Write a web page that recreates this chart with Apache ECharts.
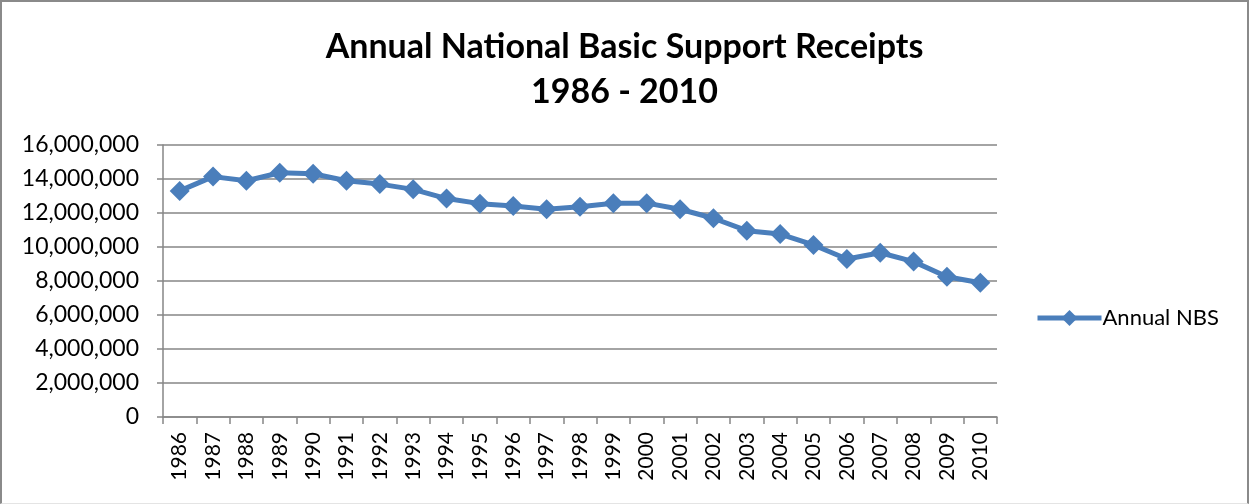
<!DOCTYPE html>
<html>
<head>
<meta charset="UTF-8" />
<title>Annual National Basic Support Receipts</title>
<script src="https://cdn.jsdelivr.net/npm/echarts@6/dist/echarts.min.js"></script>
<style type="text/css">
body{
	margin: 0px;
	background: #fff;
}
#chart{
	width: 1245px;
	height: 501px;
	border-top: 2px solid #8a8a8a;
	border-left: 2px solid #8a8a8a;
	border-right: 2px solid #8a8a8a;
	border-bottom: 1px solid #e4e4e4;
}
</style>
</head>
<body>

<div id="chart"></div>

<script type="text/javascript">

// values
var years = ['1986','1987','1988','1989','1990','1991','1992','1993','1994','1995',
	'1996','1997','1998','1999','2000','2001','2002','2003','2004','2005',
	'2006','2007','2008','2009','2010'];

var annualNBS = [13300000, 14140000, 13900000, 14370000, 14310000, 13900000, 13700000, 13390000, 12850000, 12550000,
	12410000, 12220000, 12370000, 12580000, 12580000, 12220000, 11690000, 10960000, 10760000, 10120000,
	9290000, 9660000, 9140000, 8250000, 7900000];

var titleLines = ['Annual National Basic Support Receipts', '1986 - 2010'];
var seriesName = 'Annual NBS';

var font = 'Lato, "Liberation Sans", sans-serif';
var blue = '#4a7ebb';
var gray = '#868686';

var myChart = echarts.init(document.getElementById('chart'));

myChart.setOption({
	animation: false,
	textStyle: { fontFamily: font },
	title: {
		text: titleLines.join('\n'),
		left: 'center',
		top: 18,
		textStyle: {
			fontFamily: font,
			fontSize: 34,
			fontWeight: 'bold',
			color: '#000',
			lineHeight: 45
		}
	},
	legend: {
		data: [seriesName],
		orient: 'vertical',
		left: 1028,
		top: 300,
		itemWidth: 64,
		itemHeight: 20,
		itemGap: 6,
		lineStyle: { width: 5 },
		textStyle: { fontFamily: font, fontSize: 22, color: '#000', padding: [0, 0, 0, -4] }
	},
	grid: {
		left: 161,
		top: 143,
		width: 834,
		height: 272,
		containLabel: false
	},
	xAxis: {
		type: 'category',
		data: years,
		boundaryGap: true,
		axisLine: { lineStyle: { color: gray, width: 1.5 } },
		axisTick: { show: true, length: 7, alignWithLabel: false, lineStyle: { color: gray, width: 1.5 } },
		axisLabel: {
			rotate: 90,
			interval: 0,
			margin: 15,
			fontFamily: font,
			fontSize: 21,
			color: '#000'
		}
	},
	yAxis: {
		type: 'value',
		min: 0,
		max: 16000000,
		interval: 2000000,
		axisLine: { show: true, lineStyle: { color: gray, width: 1.5 } },
		axisTick: { show: true, length: 6, lineStyle: { color: gray, width: 1.5 } },
		splitLine: { lineStyle: { color: gray, width: 1.5 } },
		axisLabel: {
			margin: 24,
			fontFamily: font,
			fontSize: 23,
			color: '#000',
			formatter: function(v){ return v.toLocaleString('en-US'); }
		}
	},
	series: [{
		name: seriesName,
		type: 'line',
		data: annualNBS,
		symbol: 'diamond',
		symbolSize: 20,
		itemStyle: { color: blue },
		lineStyle: { color: blue, width: 5 }
	}]
});

</script>

</body>
</html>
